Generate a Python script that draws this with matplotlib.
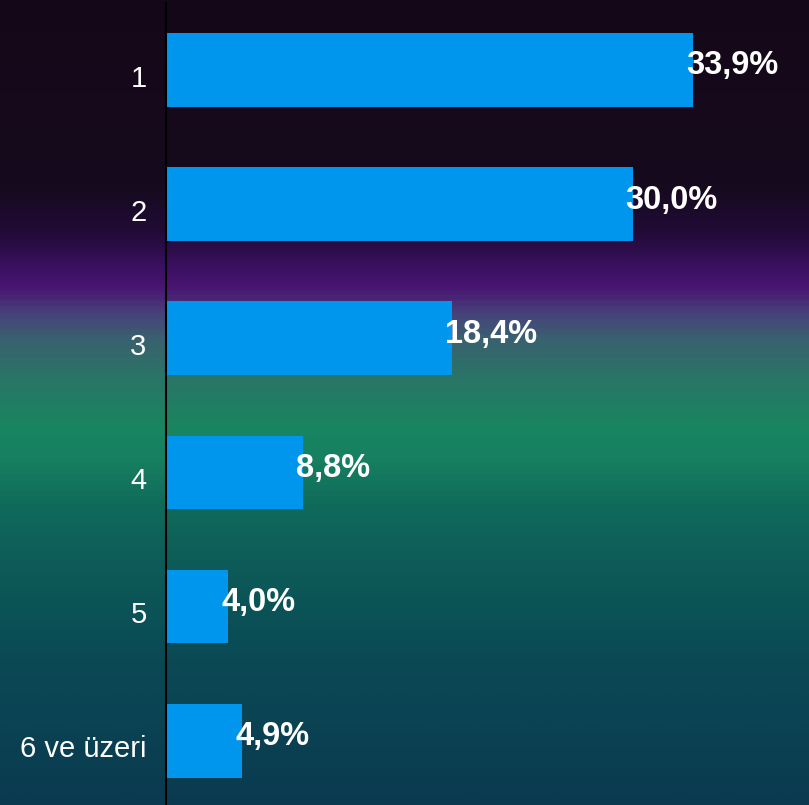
import numpy as np
import matplotlib
matplotlib.use("Agg")
import matplotlib.pyplot as plt
import matplotlib.transforms as mtransforms
from matplotlib.colors import LinearSegmentedColormap

categories = ["1", "2", "3", "4", "5", "6 ve üzeri"]
values = [33.9, 30.0, 18.4, 8.8, 4.0, 4.9]
labels = ["33,9%", "30,0%", "18,4%", "8,8%", "4,0%", "4,9%"]

plt.rcParams['font.family'] = ['Liberation Sans', 'DejaVu Sans']

W, H = 809, 805
fig = plt.figure(figsize=(W / 100, H / 100), dpi=100)

# background gradient (top -> bottom)
stops = [
    (0.00, "#140818"),
    (0.23, "#160a1e"),
    (0.29, "#220b38"),
    (0.33, "#3a1060"),
    (0.358, "#4a1672"),
    (0.388, "#47407a"),
    (0.42, "#3a6070"),
    (0.47, "#2a7566"),
    (0.53, "#1a8560"),
    (0.57, "#168060"),
    (0.63, "#106a5a"),
    (0.71, "#0d5a58"),
    (0.82, "#0a4a55"),
    (1.00, "#0a3a50"),
]
cmap = LinearSegmentedColormap.from_list("bg", stops)
bg = fig.add_axes([0, 0, 1, 1])
bg.imshow(np.linspace(0, 1, 400).reshape(-1, 1), aspect="auto", cmap=cmap,
          extent=[0, 1, 1, 0])
bg.set_axis_off()

ax = fig.add_axes([166 / W, 0, 1 - 166 / W, 1 - 3 / H])
ax.patch.set_alpha(0)
y = np.arange(len(categories))
ax.barh(y, values, height=0.55, color="#0096ee")
ax.set_ylim(5.48, -0.5)
ax.set_xlim(0, 41.35)
ax.set_yticks(y)
ax.set_yticklabels(categories, color="white", fontsize=21)
ax.tick_params(axis="y", length=0, pad=14)
ax.set_xticks([])
for s in ["top", "right", "bottom"]:
    ax.spines[s].set_visible(False)
ax.spines["left"].set_color("black")
ax.spines["left"].set_linewidth(1.5)

shift = mtransforms.ScaledTranslation(0, -4 / 72, fig.dpi_scale_trans)
for t in ax.get_yticklabels():
    t.set_transform(t.get_transform() + shift)

for yi, v, lab in zip(y, values, labels):
    ax.annotate(lab, (v, yi), xytext=(-5, 3), textcoords="offset points",
                ha="left", va="center", color="white", fontsize=23.5,
                fontweight="bold")

fig.savefig("out.png", dpi=100)
